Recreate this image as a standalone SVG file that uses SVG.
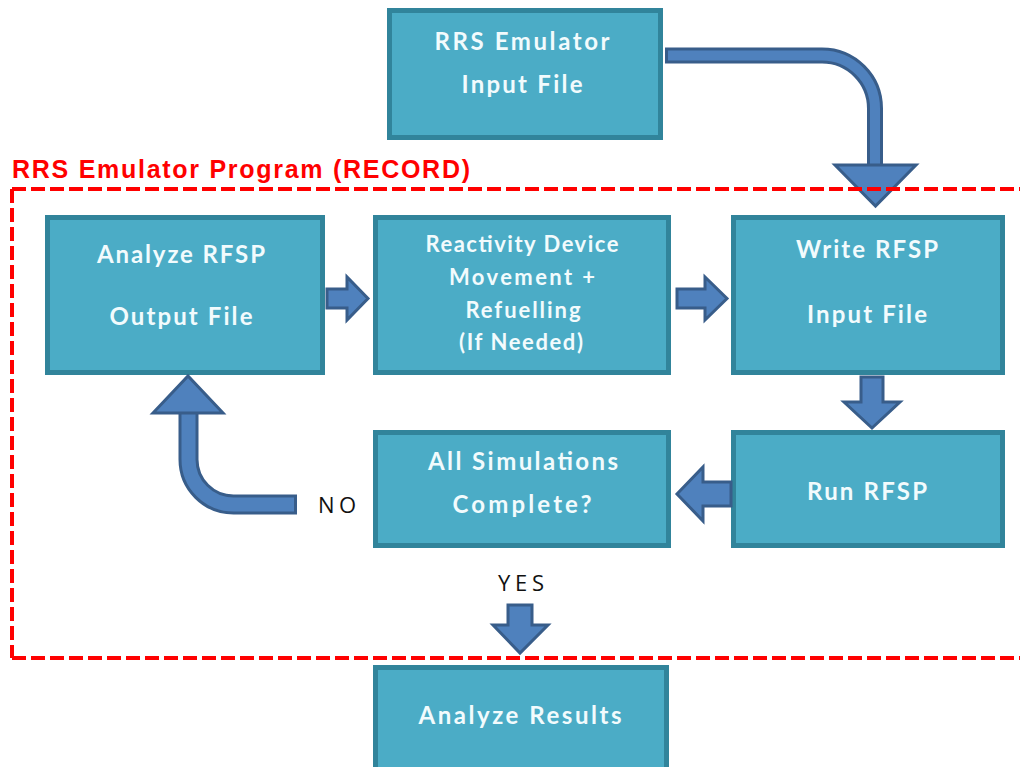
<svg xmlns="http://www.w3.org/2000/svg" width="1020" height="767" viewBox="0 0 1020 767">
<style>
.box{fill:#4BACC6;stroke:#31849B;stroke-width:5}
.t{font-family:Lato,"Open Sans","Liberation Sans",sans-serif;font-weight:bold;font-size:24px;fill:#F2FBFD;text-anchor:middle}
.ts{font-size:22px}
.arr{fill:#4F81BD;stroke:#385D8A;stroke-width:3;stroke-linejoin:miter}
.shaftO{fill:none;stroke:#385D8A}
.shaftI{fill:none;stroke:#4F81BD}
.lbl{font-family:"Open Sans","Liberation Sans",sans-serif;font-size:22px;fill:#111}
.frame{fill:none;stroke:#FF0000;stroke-width:4;stroke-dasharray:14 5}
.title{font-family:"Liberation Sans",Arial,sans-serif;font-weight:bold;font-size:25px;fill:#FF0000}
</style>
<rect width="1020" height="767" fill="#FFFFFF"/>
<g id="node-input">
<rect class="box" x="389.5" y="10.5" width="271" height="127"/>
<text class="t" x="522" y="50" textLength="175" lengthAdjust="spacing">RRS Emulator</text>
<text class="t" x="522" y="93" textLength="121" lengthAdjust="spacing">Input File</text>
</g>
<g id="node-analyze-output">
<rect class="box" x="47.5" y="217.5" width="275" height="155"/>
<text class="t" x="181" y="263" textLength="168" lengthAdjust="spacing">Analyze RFSP</text>
<text class="t" x="181" y="325" textLength="143" lengthAdjust="spacing">Output File</text>
</g>
<g id="node-reactivity">
<rect class="box" x="375.5" y="217.5" width="293" height="155"/>
<text class="t ts" x="522" y="252" textLength="193" lengthAdjust="spacing">Reactivity Device</text>
<text class="t ts" x="522" y="285" textLength="146" lengthAdjust="spacing">Movement +</text>
<text class="t ts" x="523" y="318" textLength="115" lengthAdjust="spacing">Refuelling</text>
<text class="t ts" x="521" y="350" textLength="124" lengthAdjust="spacing">(If Needed)</text>
</g>
<g id="node-write">
<rect class="box" x="733.5" y="217.5" width="269" height="155"/>
<text class="t" x="867" y="258" textLength="142" lengthAdjust="spacing">Write RFSP</text>
<text class="t" x="867" y="323" textLength="120" lengthAdjust="spacing">Input File</text>
</g>
<g id="node-allsim">
<rect class="box" x="375.5" y="432.5" width="293" height="113"/>
<text class="t" x="523" y="470" textLength="190" lengthAdjust="spacing">All Simulations</text>
<text class="t" x="522" y="513" textLength="139" lengthAdjust="spacing">Complete?</text>
</g>
<g id="node-run">
<rect class="box" x="733.5" y="432.5" width="269" height="113"/>
<text class="t" x="867" y="500" textLength="120" lengthAdjust="spacing">Run RFSP</text>
</g>
<g id="node-results">
<rect class="box" x="375.5" y="667.5" width="291" height="110"/>
<text class="t" x="520" y="724" textLength="203" lengthAdjust="spacing">Analyze Results</text>
</g>
<g id="connectors">
<path class="shaftO" stroke-width="16" d="M665,55.5 H822 A53,53 0 0 1 875,108.5 V166"/>
<path class="shaftI" stroke-width="10" d="M668,55.5 H822 A53,53 0 0 1 875,108.5 V166"/>
<polygon class="arr" points="835,165 916,165 875.5,206"/>
<polygon class="arr" points="327,289 347,289 347,277 368,298.5 347,320 347,308 327,308"/>
<polygon class="arr" points="677,289 705,289 705,277 727,298.5 705,320 705,308 677,308"/>
<polygon class="arr" points="861,377 883,377 883,402 900,402 872,428 844,402 861,402"/>
<polygon class="arr" points="731,482 703,482 703,467 677,494 703,521 703,506 731,506"/>
<polygon class="arr" points="508,605 532,605 532,625 548,625 520,653 493,625 508,625"/>
<path class="shaftO" stroke-width="20" d="M297,504.5 H233.5 A45,45 0 0 1 188.5,459.5 V412"/>
<path class="shaftI" stroke-width="14" d="M294,504.5 H233.5 A45,45 0 0 1 188.5,459.5 V412"/>
<polygon class="arr" points="153,413 188,376 223,413"/>
<text class="lbl" x="318" y="513" textLength="38" lengthAdjust="spacing">NO</text>
<text class="lbl" x="498" y="591" textLength="46" lengthAdjust="spacing">YES</text>
</g>
<g id="frame">
<text class="title" x="12" y="178" textLength="458" lengthAdjust="spacing">RRS Emulator Program (RECORD)</text>
<line class="frame" x1="12" y1="189" x2="1020" y2="189"/>
<line class="frame" x1="12" y1="189" x2="12" y2="658"/>
<line class="frame" x1="12" y1="658" x2="1020" y2="658"/>
</g>
</svg>
